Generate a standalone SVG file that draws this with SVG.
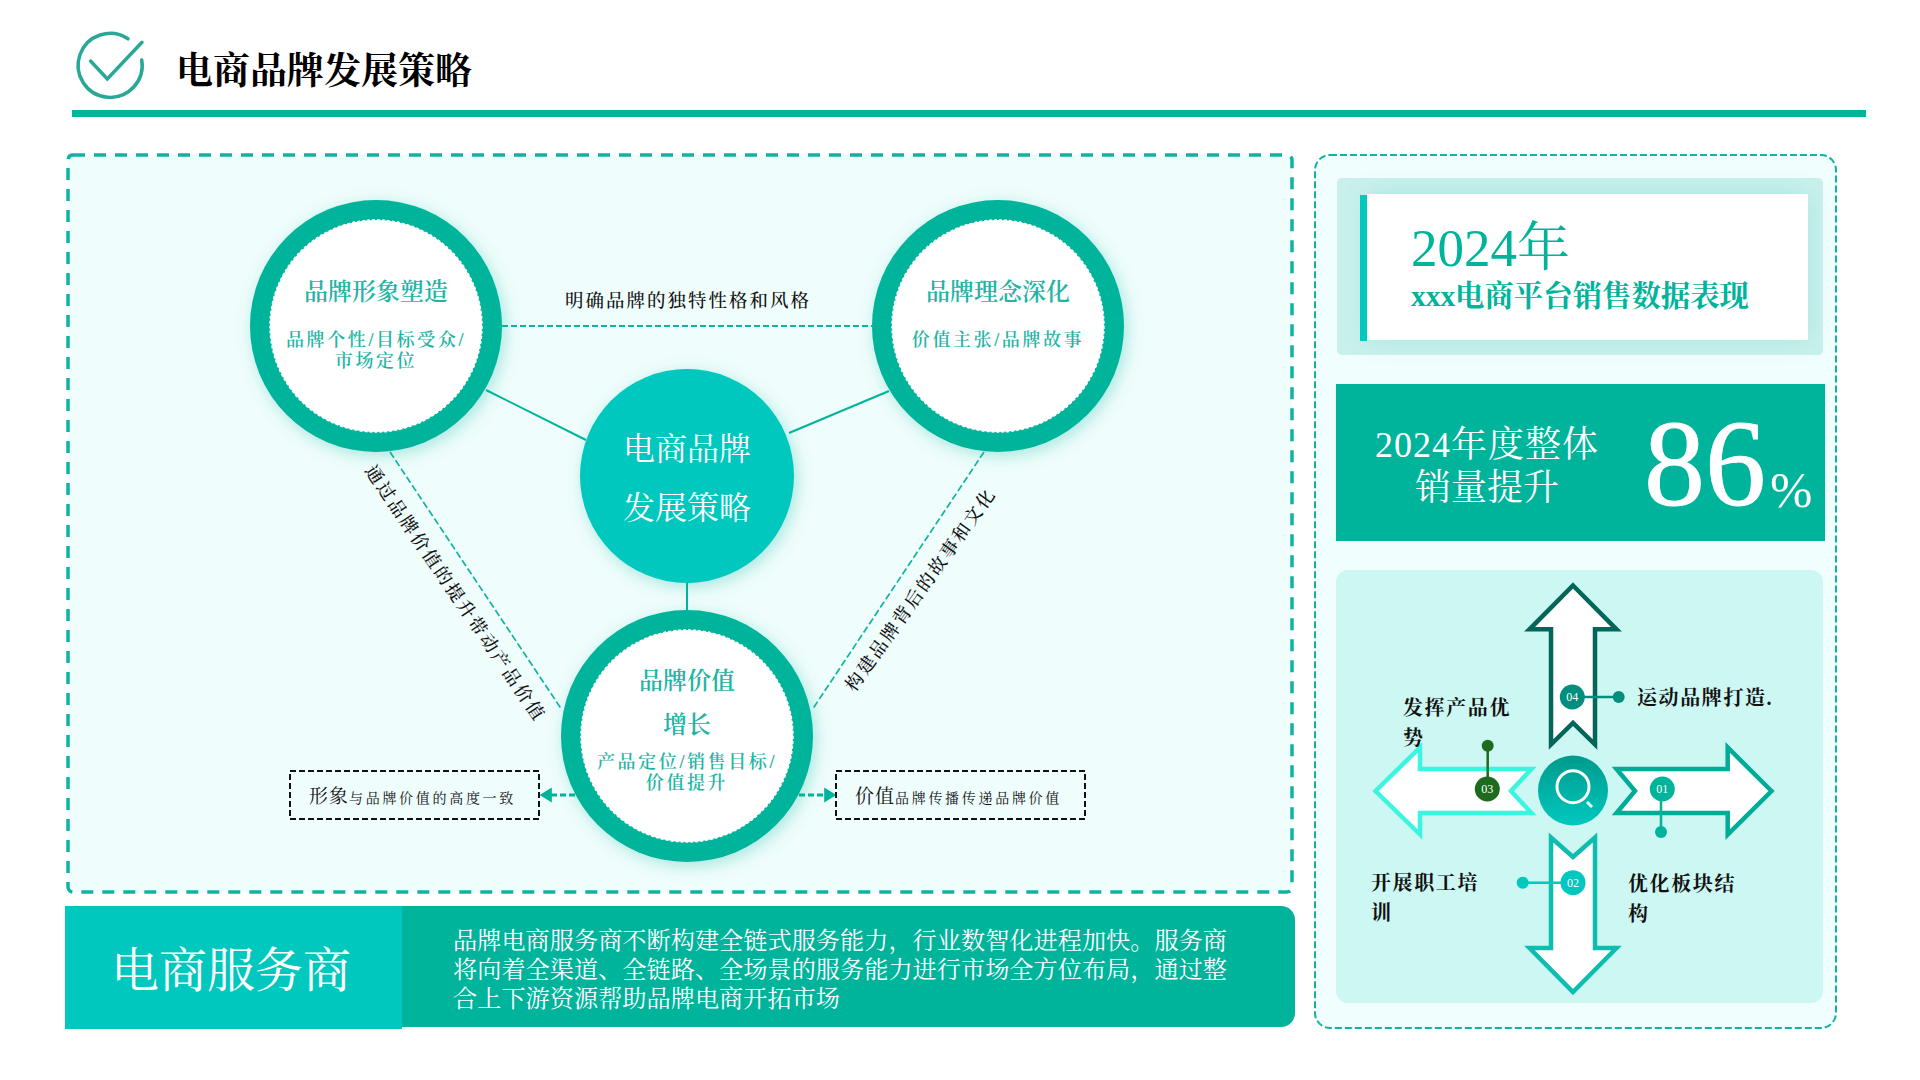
<svg xmlns="http://www.w3.org/2000/svg" width="1920" height="1080" viewBox="0 0 1920 1080">
<style>
text{font-family:"Liberation Serif","Noto Serif CJK SC","Noto Sans CJK SC",serif}
.m{text-anchor:middle}
.tl{font-size:24px;fill:#1fb5a5;font-weight:600}
.sb{font-size:18px;fill:#1fb5a5;letter-spacing:2.6px;font-weight:600}
.lb{font-size:18.5px;fill:#111;letter-spacing:2px;font-weight:500}
.rl{font-size:18px;fill:#111;letter-spacing:2.4px;font-weight:500}
.big{fill:#fff}
.para{font-size:24.2px;fill:#fff}
.ar{font-size:20px;fill:#111;font-weight:700;letter-spacing:1.6px}
.no{font-size:12px;fill:#fff;text-anchor:middle}
.ring{fill:#00b39b;filter:url(#sh)}
.in{fill:#fff;stroke:#fff;stroke-width:1.5;stroke-dasharray:3 2}
.dash{fill:none;stroke:#10b3a2;stroke-width:2;stroke-dasharray:6 3}
.dash2{fill:none;stroke:#10b3a2;stroke-width:1.7;stroke-dasharray:7 3}
.solid{fill:none;stroke:#00b39b;stroke-width:2}
.box{fill:none;stroke:#111;stroke-width:2;stroke-dasharray:6 3}
.arw{fill:#fff;stroke-width:4.5;stroke-linejoin:miter}
.lk{stroke-width:2.5;fill:none}
</style>
<defs>
<filter id="sh" x="-30%" y="-30%" width="160%" height="160%"><feDropShadow dx="3" dy="4" stdDeviation="8" flood-color="#00b39b" flood-opacity=".3"/></filter>
<filter id="sh2" x="-15%" y="-25%" width="130%" height="150%"><feDropShadow dx="0" dy="0" stdDeviation="12" flood-color="#00b39b" flood-opacity=".16"/></filter>
<linearGradient id="cg" x1="0" y1="0" x2="0" y2="1"><stop offset="0" stop-color="#009a8c"/><stop offset="1" stop-color="#00c8be"/></linearGradient>
<marker id="ah" markerWidth="4" markerHeight="5" refX="3.6" refY="2.5" orient="auto"><path d="M0 0L4 2.5L0 5Z" fill="#00b39b"/></marker>
</defs>
<rect width="1920" height="1080" fill="#fff"/>
<g id="header">
<path d="M128 38.8A32 32 0 1 0 141.7 60" fill="none" stroke="#2aa896" stroke-width="3.5" stroke-linecap="round"/>
<path d="M90.6 61L107.3 79L142 42.3" fill="none" stroke="#2aa896" stroke-width="3.5" stroke-linecap="round"/>
<text x="176" y="84" font-size="37" font-weight="700" fill="#000">电商品牌发展策略</text>
<rect x="72" y="110" width="1794" height="7" fill="#00b39b"/>
</g>
<g id="panel-left"><rect x="68" y="155" width="1224" height="737" rx="5" fill="#effdfc" stroke="#10b3a2" stroke-width="3.5" stroke-dasharray="12 9"/></g>
<g id="connectors">
<line class="solid" x1="486" y1="390" x2="586" y2="440"/>
<line class="solid" x1="889" y1="391" x2="789" y2="433"/>
<line class="solid" x1="687" y1="582" x2="687" y2="610"/>
<line class="dash" x1="502" y1="326" x2="872" y2="326"/>
<line class="dash2" x1="390" y1="452" x2="562" y2="710"/>
<line class="dash2" x1="984" y1="452" x2="812" y2="710"/>
<line x1="575" y1="795" x2="541" y2="795" stroke="#00b39b" stroke-width="3" stroke-dasharray="6 3" marker-end="url(#ah)"/>
<line x1="799" y1="795" x2="835" y2="795" stroke="#00b39b" stroke-width="3" stroke-dasharray="6 3" marker-end="url(#ah)"/>
</g>
<g id="edge-labels">
<text class="lb m" x="688" y="307">明确品牌的独特性格和风格</text>
<text class="rl m" transform="translate(456 593) rotate(55.8)" y="7">通过品牌价值的提升带动产品价值</text>
<text class="rl m" transform="translate(920 589) rotate(-54.5)" y="7">构建品牌背后的故事和文化</text>
</g>
<g id="node-image">
<circle class="ring" cx="376" cy="326" r="126"/><circle class="in" cx="376" cy="326" r="106"/>
<text class="tl m" x="376" y="300">品牌形象塑造</text>
<text class="sb m" x="376" y="346">品牌个性/目标受众/</text>
<text class="sb m" x="376" y="367">市场定位</text>
</g>
<g id="node-idea">
<circle class="ring" cx="998" cy="326" r="126"/><circle class="in" cx="998" cy="326" r="106"/>
<text class="tl m" x="998" y="300">品牌理念深化</text>
<text class="sb m" x="998" y="346">价值主张/品牌故事</text>
</g>
<g id="node-center">
<circle cx="687" cy="476" r="107" fill="#00c8be" filter="url(#sh)"/>
<text class="big m" x="687" y="460" font-size="32">电商品牌</text>
<text class="big m" x="687" y="519" font-size="32">发展策略</text>
</g>
<g id="node-value">
<circle class="ring" cx="687" cy="736" r="126"/><circle class="in" cx="687" cy="736" r="106"/>
<text class="tl m" x="687" y="689">品牌价值</text>
<text class="tl m" x="687" y="733">增长</text>
<text class="sb m" x="687" y="768">产品定位/销售目标/</text>
<text class="sb m" x="687" y="789">价值提升</text>
</g>
<g id="box-left">
<rect class="box" x="290" y="771" width="249" height="48"/>
<text x="309" y="803" font-size="19" fill="#111" letter-spacing="1">形象<tspan font-size="14" letter-spacing="2.7">与品牌价值的高度一致</tspan></text>
</g>
<g id="box-right">
<rect class="box" x="836" y="771" width="249" height="48"/>
<text x="855" y="803" font-size="19" fill="#111" letter-spacing="1">价值<tspan font-size="14" letter-spacing="2.7">品牌传播传递品牌价值</tspan></text>
</g>
<g id="band">
<rect x="300" y="906" width="995" height="121" rx="14" fill="#00b39b"/>
<rect x="65" y="906" width="337" height="123" fill="#00c8be"/>
<text class="big m" x="231" y="987" font-size="48">电商服务商</text>
<text class="para" x="453" y="949">品牌电商服务商不断构建全链式服务能力，行业数智化进程加快。服务商</text>
<text class="para" x="453" y="978">将向着全渠道、全链路、全场景的服务能力进行市场全方位布局，通过整</text>
<text class="para" x="453" y="1007">合上下游资源帮助品牌电商开拓市场</text>
</g>
<g id="panel-right"><rect x="1315" y="155" width="521" height="873" rx="15" fill="#f0fefd" stroke="#10b3a2" stroke-width="2" stroke-dasharray="7 3"/></g>
<g id="card-title">
<rect x="1337" y="178" width="486" height="177" rx="5" fill="#c9f0ec"/>
<rect x="1367" y="194" width="441" height="146" fill="#fff" filter="url(#sh2)"/>
<rect x="1360" y="195" width="7" height="146" fill="#00c8be"/>
<text x="1411" y="266" font-size="53" fill="#00b39b">2024年</text>
<text x="1411" y="306" font-size="29.4" font-weight="700" fill="#00b39b">xxx电商平台销售数据表现</text>
</g>
<g id="card-stat">
<rect x="1336" y="384" width="489" height="157" fill="#00b39b"/>
<text class="big m" x="1487" y="457" font-size="36" letter-spacing="1">2024年度整体</text>
<text class="big m" x="1487" y="500" font-size="36">销量提升</text>
<text class="big" x="1644" y="505" font-size="122" stroke="#fff" stroke-width=".8">86</text>
<text class="big" x="1770" y="507" font-size="51">%</text>
</g>
<g id="card-arrows"><rect x="1336" y="570" width="487" height="433" rx="12" fill="#ccf7f3"/></g>
<g id="arrow-04">
<path class="arw" stroke="#04665a" d="M1573 585.5L1616.5 629.3H1595V744.5L1573 723L1551 744.5V629.3H1529.5Z"/>
<line class="lk" stroke="#008f7e" x1="1572" y1="697" x2="1619" y2="697"/>
<circle cx="1572.3" cy="697" r="12.5" fill="#008f7e"/><circle cx="1618.7" cy="697" r="6" fill="#008f7e"/>
<text class="no" x="1572.3" y="701">04</text>
<text class="ar" x="1637" y="705">运动品牌打造.</text>
</g>
<g id="arrow-01">
<path class="arw" stroke="#00ab98" d="M1771.5 791L1727.7 747.5V769H1616.5L1635 791L1616.5 813H1727.7V834.5Z"/>
<line class="lk" stroke="#00b39b" x1="1661" y1="789" x2="1661" y2="832"/>
<circle cx="1662.3" cy="789" r="12.5" fill="#00b39b"/><circle cx="1661" cy="832" r="6" fill="#00b39b"/>
<text class="no" x="1662.3" y="793">01</text>
<text class="ar" x="1628" y="891">优化板块结</text><text class="ar" x="1628" y="921">构</text>
</g>
<g id="arrow-03">
<path class="arw" stroke="#3cf5e0" d="M1375.5 791L1420 747.5V769H1531.5L1511 791L1531.5 813H1420V834.5Z"/>
<line class="lk" stroke="#1e6b1e" x1="1487.7" y1="789" x2="1487.7" y2="746"/>
<circle cx="1487.3" cy="789" r="12.5" fill="#1e6b1e"/><circle cx="1487.7" cy="745.7" r="6" fill="#1e6b1e"/>
<text class="no" x="1487.3" y="793">03</text>
<text class="ar" x="1403" y="715">发挥产品优</text><text class="ar" x="1403" y="745">势</text>
</g>
<g id="arrow-02">
<path class="arw" stroke="#0dbdb0" d="M1573 992L1616.5 948H1595V837.5L1573 857L1551 837.5V948H1529.5Z"/>
<line class="lk" stroke="#00c8be" x1="1573" y1="882.7" x2="1523" y2="882.7"/>
<circle cx="1573" cy="882.7" r="12.5" fill="#00c8be"/><circle cx="1522.7" cy="882.7" r="6" fill="#00c8be"/>
<text class="no" x="1573" y="886.7">02</text>
<text class="ar" x="1371" y="890">开展职工培</text><text class="ar" x="1371" y="920">训</text>
</g>
<g id="hub">
<circle cx="1573" cy="790.5" r="35" fill="url(#cg)"/>
<circle cx="1573" cy="786.7" r="16" fill="none" stroke="#fff" stroke-width="3"/>
<line x1="1587" y1="802" x2="1592" y2="807" stroke="#dff" stroke-width="3"/>
</g>
</svg>
